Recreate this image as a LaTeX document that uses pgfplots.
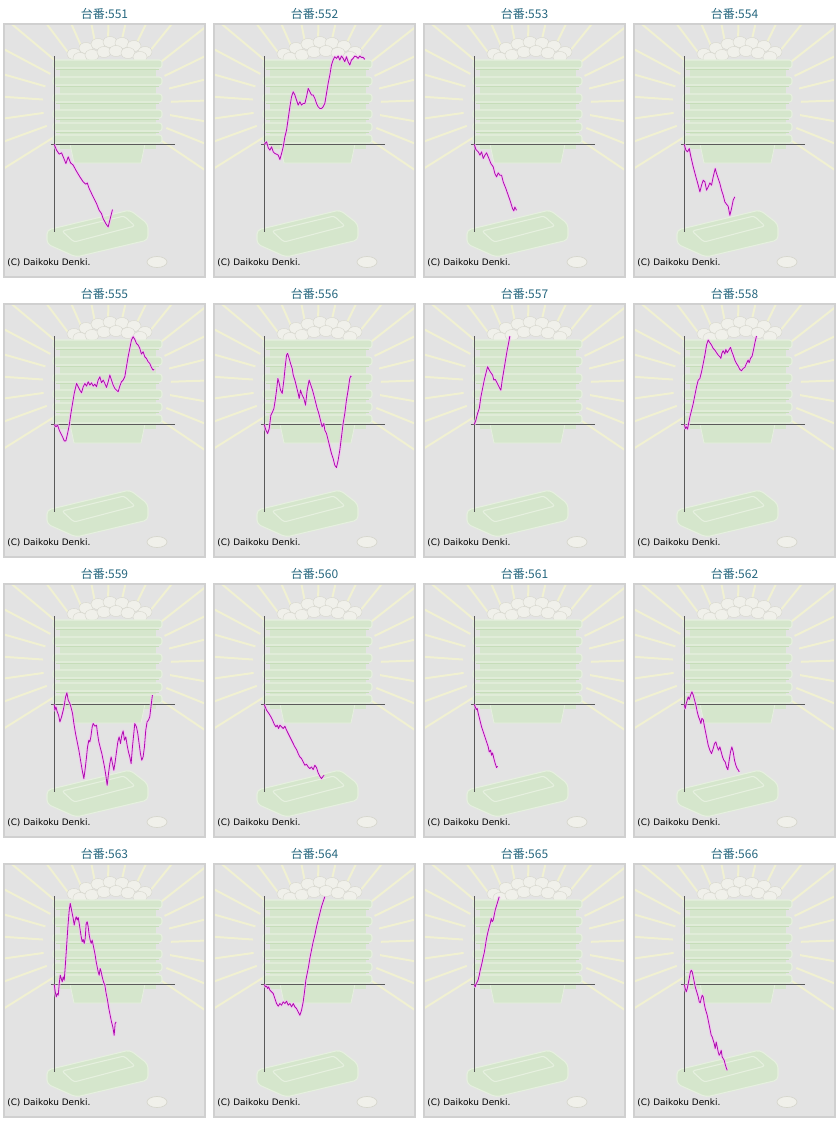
\documentclass[border=0pt]{standalone}
\usepackage{pgfplots}
\pgfplotsset{compat=1.18}
\usepackage{fontspec}
\newfontfamily\cjk{Noto Sans CJK JP}
\newfontfamily\dej{DejaVu Sans}
\definecolor{bgc}{HTML}{E3E3E3}
\definecolor{brd}{HTML}{D0D0D0}
\definecolor{ray}{HTML}{F1F1D2}
\definecolor{tray}{HTML}{D5E6CC}
\definecolor{trayhi}{HTML}{E6F0DF}
\definecolor{traylo}{HTML}{C6DDB9}
\definecolor{ball}{HTML}{F0F0EA}
\definecolor{ballo}{HTML}{D6D6CC}
\definecolor{axc}{HTML}{5A5A5A}
\definecolor{ttl}{HTML}{26677F}
\definecolor{mag}{RGB}{175,10,175}
\definecolor{glow}{RGB}{246,192,246}

% decoration of one panel (pixel coordinates, y down)
\newcommand\deco[3]{%
\begin{scope}[x=0.75pt,y=-0.75pt,shift={({4+210*#1},{24+280*#2})}]
  \fill[bgc] (0,0) rectangle (201,253);
  \begin{scope}
    \clip (1,1) rectangle (200,252);
    \foreach \a in {148,160,172,184,196,208,220,233,246,259,271,283,296,309,322,334,346,358,370,382,394}
      {\draw[ray,line width=1.5pt] (103,80) ++(\a:64) -- ++(\a:95);}
  \end{scope}
  % balls
  \foreach \bx/\by in {70/30,82/24,94/20,106/18,118/19,130/22,141/28,76/34,88/31,100/28,112/27,124/29,136/33}
    {\filldraw[fill=ball,draw=ballo,line width=0.3pt] (\bx,\by) ellipse (7 and 5.5);}
  % tray stack
  \fill[tray] (56,36) rectangle (152,125);
  \foreach \ty in {36,53,70,86,99,111}
    {\filldraw[fill=tray,draw=trayhi,line width=0.8pt,rounded corners=2pt] (49,\ty) rectangle (158,\ty+8);
     \draw[traylo,line width=0.6pt] (52,\ty+9) -- (155,\ty+9);}
  \filldraw[fill=tray,draw=trayhi,line width=0.6pt] (66,120) -- (141,120) -- (137,139) -- (70,139) -- cycle;
  % bottom tray
  \filldraw[fill=tray,draw=trayhi,line width=0.8pt,rounded corners=3pt] (43,206) -- (126,186) -- (144,200) -- (144,216) -- (72,233) -- (43,220) -- cycle;
  \draw[trayhi,line width=0.8pt,rounded corners=2pt] (58,207) -- (120,192) -- (131,202) -- (70,218) -- cycle;
  % coin
  \filldraw[fill=ball,draw=ballo,line width=0.5pt] (153,238) ellipse (10 and 5.5);
  % frame
  \draw[brd,line width=1.1pt] (0,0) rectangle (201,253);
  % texts
  \node[text=ttl,font=\cjk\fontsize{9}{10}\selectfont,inner sep=0pt] at (100.5,-10.3) {台番:#3};
  \node[anchor=base west,font=\dej\fontsize{6.7}{7}\selectfont,inner sep=0pt] at (3,241.7) {(C) Daikoku Denki.};
\end{scope}}

\newcommand\panel[4]{%
\deco{#1}{#2}{#3}
\begin{axis}[at={({(4+210*#1)*0.75pt},{-(24+280*#2)*0.75pt})},anchor=north west,
  scale only axis,width=150.75pt,height=189.75pt,
  xmin=-151,xmax=453,ymin=-397,ymax=361,hide axis,clip=false]
  \draw[axc,line width=0.75pt] (axis cs:0,-262) -- (axis cs:0,265);
  \draw[axc,line width=0.75pt] (axis cs:-10,0) -- (axis cs:364,0);
  \addplot[mag,line width=0.6pt,line join=round,preaction={draw,glow,line width=2.2pt,opacity=0.7}] coordinates {#4};
\end{axis}}

\begin{document}
\begin{tikzpicture}
\path[use as bounding box] (0,0) rectangle (629.25pt,-840.75pt);

\panel{0}{0}{551}{(0,0)(7,-17)(15,-29)(22,-25)(29,-42)(35,-57)(42,-37)(49,-55)(57,-62)(65,-77)(77,-97)(87,-112)(95,-119)(99,-115)(105,-132)(117,-157)(127,-177)(135,-197)(142,-207)(147,-222)(155,-237)(162,-247)(167,-227)(175,-195)}

\panel{1}{0}{552}{(0,0)(7,8)(12,-10)(17,-17)(22,-7)(27,-22)(32,-27)(37,-29)(42,-32)(47,-45)(52,-27)(57,-7)(62,23)(67,43)(72,78)(77,113)(82,143)(87,158)(92,148)(97,133)(102,118)(107,128)(112,118)(117,123)(122,123)(127,143)(132,168)(137,158)(142,148)(147,148)(152,138)(157,123)(162,113)(167,108)(172,108)(177,113)(182,123)(187,153)(192,183)(197,208)(202,238)(207,253)(212,263)(217,258)(222,265)(227,253)(232,265)(237,258)(242,248)(247,263)(252,248)(257,238)(262,253)(267,258)(272,265)(277,263)(282,258)(287,265)(292,261)(297,261)(302,255)}

\panel{2}{0}{553}{(0,0)(5,-15)(12,-22)(17,-32)(22,-22)(27,-42)(32,-32)(37,-25)(44,-42)(50,-57)(57,-67)(62,-87)(67,-97)(72,-85)(77,-92)(82,-92)(87,-112)(95,-132)(102,-152)(109,-172)(115,-192)(119,-199)(122,-187)(127,-197)}

\panel{3}{0}{554}{(0,0)(5,-17)(10,-22)(15,-12)(20,-37)(27,-67)(35,-97)(42,-122)(47,-142)(52,-122)(57,-107)(62,-112)(67,-137)(72,-127)(77,-115)(82,-122)(87,-97)(93,-72)(97,-87)(102,-102)(107,-117)(112,-137)(117,-152)(122,-172)(127,-179)(132,-185)(137,-212)(142,-192)(147,-167)(152,-157)}

\panel{0}{1}{555}{(0,0)(5,-7)(10,-2)(15,-17)(20,-27)(25,-37)(30,-49)(35,-49)(40,-27)(45,-2)(50,33)(55,63)(60,93)(67,123)(72,113)(77,103)(82,95)(87,113)(92,123)(97,115)(102,128)(107,118)(112,125)(117,115)(122,121)(127,113)(132,133)(137,143)(142,125)(147,133)(152,123)(157,111)(162,128)(167,148)(172,133)(177,118)(182,108)(187,103)(192,98)(197,115)(202,128)(207,133)(212,143)(217,173)(222,203)(227,228)(232,253)(237,263)(242,255)(247,243)(252,238)(257,228)(262,211)(267,218)(272,203)(277,198)(282,188)(287,183)(292,171)(297,163)(300,165)}

\panel{1}{1}{556}{(0,0)(5,-17)(10,-27)(15,-12)(20,28)(25,38)(29,48)(33,73)(37,103)(41,138)(45,123)(49,103)(54,93)(59,133)(63,173)(67,208)(70,213)(74,201)(79,183)(84,168)(87,148)(92,133)(97,113)(102,93)(105,78)(109,103)(114,88)(119,78)(124,58)(129,103)(135,133)(140,118)(145,103)(149,88)(154,68)(159,48)(164,33)(169,13)(174,-7)(179,3)(182,-17)(187,-27)(192,-47)(197,-67)(202,-87)(207,-102)(212,-122)(217,-129)(222,-107)(227,-77)(232,-37)(237,3)(242,33)(247,73)(252,103)(257,138)(260,145)(262,143)}

\panel{2}{1}{557}{(0,0)(5,13)(10,33)(15,48)(20,83)(25,108)(30,133)(35,153)(40,173)(45,163)(50,155)(55,148)(59,133)(63,135)(67,128)(72,118)(77,108)(80,103)(84,133)(89,163)(94,193)(99,223)(103,243)(107,265)}

\panel{3}{1}{558}{(0,0)(4,-12)(7,-7)(10,-14)(13,3)(17,23)(22,43)(27,63)(32,88)(37,113)(42,133)(47,138)(52,158)(57,183)(62,208)(67,238)(72,253)(77,245)(82,238)(87,228)(92,223)(97,215)(102,208)(107,203)(110,198)(113,213)(117,221)(122,211)(125,225)(129,215)(134,223)(139,231)(143,218)(147,208)(152,193)(157,183)(162,175)(167,165)(172,161)(177,168)(182,171)(187,183)(192,193)(195,185)(199,198)(204,205)(209,228)(213,248)(217,265)}

\panel{0}{2}{559}{(0,0)(2,-17)(5,-7)(9,-22)(13,-32)(17,-52)(22,-37)(27,-17)(31,3)(34,23)(38,35)(42,13)(47,3)(50,-7)(55,-27)(59,-57)(64,-87)(69,-112)(74,-137)(79,-167)(84,-197)(89,-222)(93,-192)(97,-157)(100,-127)(104,-107)(107,-112)(110,-97)(114,-67)(117,-57)(122,-65)(127,-62)(130,-87)(134,-112)(139,-132)(143,-147)(147,-167)(151,-187)(155,-212)(159,-242)(163,-207)(167,-177)(171,-157)(175,-177)(179,-197)(183,-172)(187,-142)(191,-112)(195,-97)(199,-117)(203,-92)(207,-79)(211,-107)(215,-97)(219,-122)(223,-142)(227,-157)(231,-177)(235,-127)(239,-87)(242,-57)(247,-67)(251,-87)(255,-117)(259,-147)(263,-167)(267,-157)(271,-127)(275,-77)(279,-52)(283,-47)(287,-37)(290,-12)(293,13)(295,28)}

\panel{1}{2}{560}{(0,0)(7,-17)(14,-27)(20,-37)(25,-47)(30,-59)(35,-67)(39,-62)(43,-72)(47,-62)(52,-67)(57,-72)(62,-65)(67,-77)(72,-87)(77,-97)(82,-107)(87,-117)(92,-127)(97,-135)(102,-147)(107,-157)(112,-162)(117,-172)(122,-182)(127,-179)(132,-187)(137,-192)(142,-187)(147,-195)(152,-182)(157,-189)(162,-205)(167,-215)(172,-222)(177,-215)(180,-212)}

\panel{2}{2}{561}{(0,0)(3,-7)(6,-15)(9,-12)(12,-27)(17,-47)(22,-67)(27,-82)(32,-97)(37,-112)(42,-127)(45,-142)(49,-137)(52,-152)(55,-145)(59,-162)(63,-177)(67,-189)(70,-185)}

\panel{3}{2}{562}{(0,0)(3,-12)(6,3)(9,13)(12,23)(15,15)(19,28)(23,38)(27,28)(31,13)(35,-2)(39,-22)(43,-37)(47,-47)(50,-57)(53,-42)(57,-45)(60,-62)(64,-82)(68,-102)(72,-122)(77,-137)(82,-147)(87,-132)(91,-117)(95,-112)(99,-127)(103,-137)(107,-127)(111,-142)(115,-157)(119,-167)(123,-172)(127,-187)(131,-195)(135,-167)(139,-142)(143,-127)(147,-142)(151,-167)(155,-182)(159,-192)(163,-197)(165,-202)}

\panel{0}{3}{563}{(0,0)(3,-22)(6,-37)(9,-27)(12,-32)(15,3)(18,28)(21,18)(24,8)(27,23)(30,13)(33,53)(37,113)(41,173)(45,223)(48,243)(51,228)(54,213)(57,198)(60,178)(63,193)(66,203)(69,193)(72,201)(75,183)(78,163)(81,143)(84,128)(87,135)(90,123)(93,138)(96,183)(99,188)(102,173)(105,148)(108,133)(111,123)(114,133)(117,118)(120,103)(123,88)(126,68)(129,53)(132,38)(135,28)(138,48)(141,38)(144,23)(148,8)(152,-2)(156,-27)(160,-47)(164,-72)(168,-92)(172,-112)(176,-127)(180,-152)(183,-117)(186,-112)}

\panel{1}{3}{564}{(0,0)(4,-7)(7,-5)(10,-12)(13,-7)(17,-17)(22,-22)(27,-27)(32,-42)(37,-57)(42,-65)(47,-57)(52,-62)(57,-52)(62,-57)(67,-50)(72,-62)(77,-57)(82,-67)(87,-57)(92,-67)(97,-72)(102,-82)(107,-92)(112,-77)(117,-52)(121,-22)(125,13)(129,33)(133,53)(137,78)(142,103)(147,128)(152,148)(157,173)(162,193)(167,213)(172,233)(177,248)(182,263)}

\panel{2}{3}{565}{(0,0)(3,-7)(6,3)(9,8)(12,15)(15,28)(18,43)(21,55)(24,68)(27,83)(30,95)(33,113)(36,133)(39,148)(42,161)(45,173)(48,183)(51,198)(54,188)(57,193)(60,208)(63,223)(66,233)(69,243)(72,253)(75,263)}

\panel{3}{3}{566}{(0,0)(3,-12)(6,-22)(9,-12)(12,3)(15,18)(18,35)(21,43)(24,38)(27,23)(30,8)(33,-7)(36,-17)(39,-27)(42,-37)(45,-52)(48,-55)(51,-42)(54,-32)(57,-37)(60,-57)(63,-72)(66,-82)(69,-92)(72,-107)(75,-122)(78,-137)(81,-152)(84,-157)(87,-167)(90,-177)(93,-192)(96,-172)(99,-187)(102,-202)(105,-212)(108,-207)(111,-197)(114,-217)(117,-222)(120,-227)(123,-239)(126,-249)(129,-257)}

\end{tikzpicture}
\end{document}
